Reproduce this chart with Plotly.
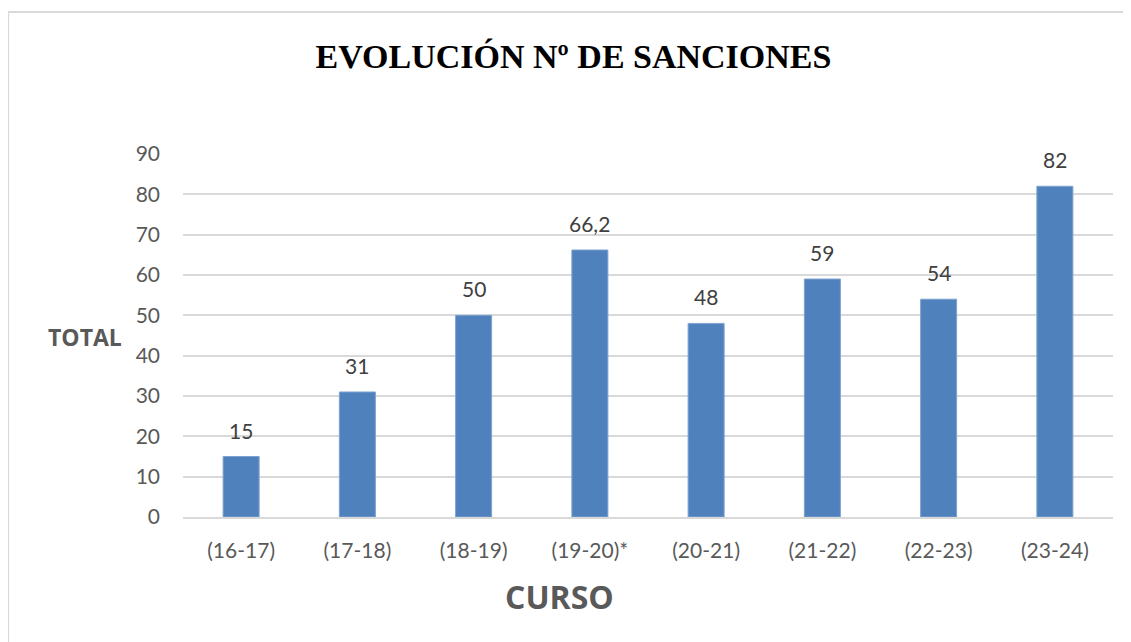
import plotly.graph_objects as go

cursos = ['(16-17)', '(17-18)', '(18-19)', '(19-20)*', '(20-21)', '(21-22)', '(22-23)', '(23-24)']
sanciones = [15, 31, 50, 66.2, 48, 59, 54, 82]
etiquetas = ['15', '31', '50', '66,2', '48', '59', '54', '82']

fig = go.Figure(go.Bar(
    x=cursos,
    y=sanciones,
    marker=dict(color='#4F81BD', line=dict(color='#7FA3D1', width=1)),
    width=0.31,
))

# value labels above the bars
for c, v, t in zip(cursos, sanciones, etiquetas):
    fig.add_annotation(x=c, y=v, text=t, showarrow=False, yanchor='bottom', yshift=12,
                       font=dict(family='Lato', size=21, color='#404040'))

# the page body adds 8px, margins compensate
fig.update_layout(
    width=1131, height=642,
    plot_bgcolor='white', paper_bgcolor='white',
    margin=dict(l=175, r=26, t=146, b=133),
    showlegend=False,
    font=dict(family='Lato', color='#595959'),
    title=dict(text='<b>EVOLUCIÓN Nº DE SANCIONES</b>', x=0.5, xanchor='center',
               y=0.925, yanchor='middle',
               font=dict(family='Liberation Serif', size=34, color='black')),
)
fig.update_yaxes(range=[0, 90], dtick=10, showgrid=True, gridcolor='#D9D9D9', gridwidth=1.5,
                 zeroline=False, ticks='', tickfont=dict(size=21, color='#595959'),
                 ticklabelstandoff=22)
fig.update_xaxes(showline=True, linecolor='#D9D9D9', linewidth=2, ticks='',
                 tickfont=dict(size=21, color='#595959'), ticklabelstandoff=14)

# axis titles placed like the original
fig.add_annotation(text='<b>TOTAL</b>', xref='paper', yref='paper', x=-0.105, y=0.495,
                   xanchor='center', yanchor='middle',
                   showarrow=False, font=dict(family='Open Sans', size=23, color='#595959'))
fig.add_annotation(text='<b>CURSO</b>', xref='paper', yref='paper', x=0.405, y=-0.22,
                   xanchor='center', yanchor='middle',
                   showarrow=False, font=dict(family='Open Sans', size=32, color='#595959'))

# chart border (cropped at right and bottom in the original)
fig.add_shape(type='rect', xref='paper', yref='paper', x0=-0.188, x1=1.1, y0=-0.5, y1=1.391,
              line=dict(color='#D9D9D9', width=2), fillcolor='rgba(0,0,0,0)', layer='below')

fig.write_html('out.html')
